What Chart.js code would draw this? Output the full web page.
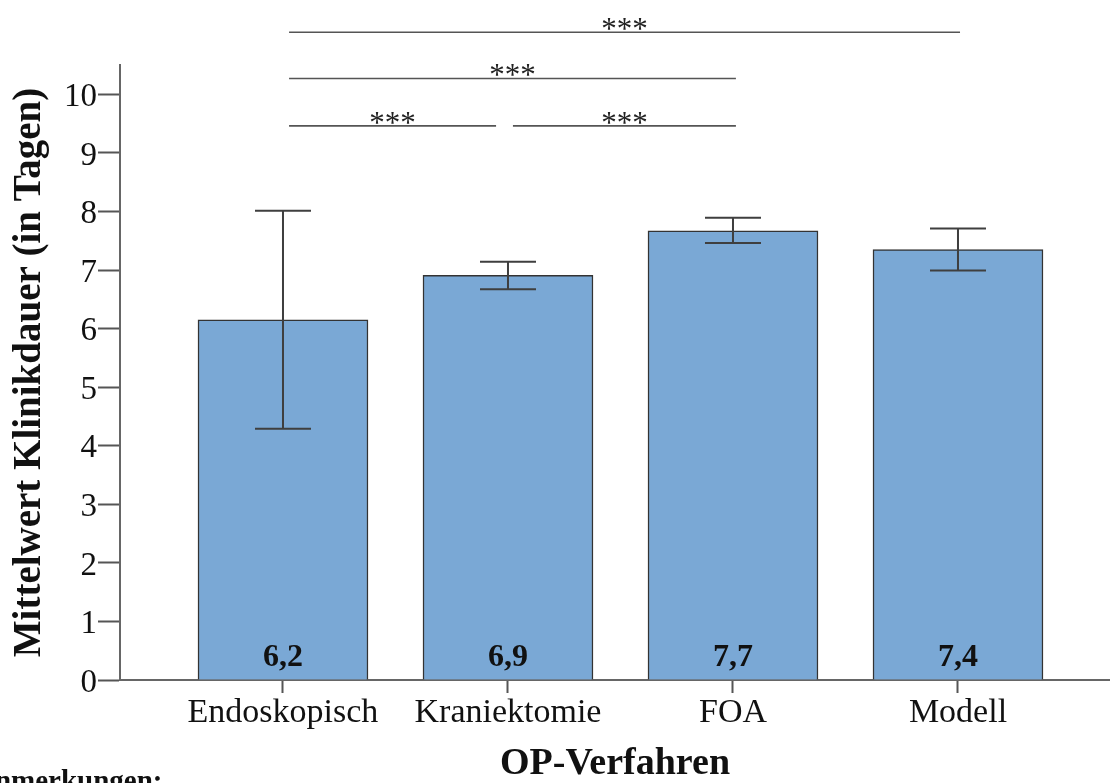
<!DOCTYPE html>
<html><head><meta charset="utf-8">
<script src="https://cdn.jsdelivr.net/npm/chart.js@4.4.0/dist/chart.umd.min.js"></script>
<style>html,body{margin:0;padding:0;background:#fff;overflow:hidden}#wrap{width:1110px;height:783px;position:relative}</style>
</head><body><div id="wrap"><canvas id="c" width="1110" height="783"></canvas></div>
<script>
// ---- data ----
const categories = ['Endoskopisch', 'Kraniektomie', 'FOA', 'Modell'];
const means = [6.15, 6.91, 7.67, 7.35];
const errLow = [4.29, 6.67, 7.46, 6.99];
const errHigh = [8.01, 7.14, 7.89, 7.71];
const valueLabels = ['6,2', '6,9', '7,7', '7,4'];
const yTicks = [0, 1, 2, 3, 4, 5, 6, 7, 8, 9, 10];
const sigFrom = [0.027, 0.027, 0.027, 1.022];
const sigTo = [3.009, 2.013, 0.947, 2.013];
const sigLevel = [11.06, 10.27, 9.46, 9.46];
const sigText = ['***', '***', '***', '***'];
const yTitle = 'Mittelwert Klinikdauer (in Tagen)';
const xTitle = 'OP-Verfahren';
const footnote = 'Anmerkungen:';

const SERIF = '"Liberation Serif", "Times New Roman", serif';

const overlay = {
  id: 'overlay',
  afterDatasetsDraw(chart) {
    const {ctx, scales: {x, y}} = chart;
    ctx.save();
    // error bars
    ctx.strokeStyle = '#3f3f3f';
    ctx.lineWidth = 2;
    const cap = 28;
    categories.forEach((c, i) => {
      const px = x.getPixelForValue(i);
      const yl = y.getPixelForValue(errLow[i]);
      const yh = y.getPixelForValue(errHigh[i]);
      ctx.beginPath();
      ctx.moveTo(px, yl); ctx.lineTo(px, yh);
      ctx.moveTo(px - cap, yl); ctx.lineTo(px + cap, yl);
      ctx.moveTo(px - cap, yh); ctx.lineTo(px + cap, yh);
      ctx.stroke();
    });
    // value labels
    ctx.fillStyle = '#111';
    ctx.font = 'bold 32px ' + SERIF;
    ctx.textAlign = 'center';
    ctx.textBaseline = 'alphabetic';
    const y0 = y.getPixelForValue(0);
    categories.forEach((c, i) => {
      ctx.fillText(valueLabels[i], x.getPixelForValue(i), y0 - 14);
    });
    // significance brackets
    ctx.strokeStyle = '#555';
    ctx.lineWidth = 1.6;
    ctx.font = '31px ' + SERIF;
    ctx.fillStyle = '#222';
    sigText.forEach((t, k) => {
      const x1 = x.getPixelForValue(sigFrom[k]);
      const x2 = x.getPixelForValue(sigTo[k]);
      const py = y.getPixelForValue(sigLevel[k]);
      ctx.beginPath();
      ctx.moveTo(x1, py); ctx.lineTo(x2, py);
      ctx.stroke();
      ctx.fillText(t, (x1 + x2) / 2, py + 7);
    });
    // footnote (cut off at the bottom edge)
    ctx.textAlign = 'left';
    ctx.fillStyle = '#111';
    ctx.font = 'bold 29px ' + SERIF;
    ctx.fillText(footnote, -26, 790);
    ctx.restore();
  }
};

new Chart(document.getElementById('c').getContext('2d'), {
  type: 'bar',
  data: {
    datasets: [{
      data: categories.map((c, i) => ({x: i, y: means[i]})),
      backgroundColor: '#7AA8D5',
      borderColor: '#333',
      borderWidth: 1.5,
      barThickness: 170
    }]
  },
  options: {
    responsive: false,
    animation: false,
    devicePixelRatio: 1,
    layout: {padding: {top: 65, left: 0, right: 0, bottom: 0}},
    plugins: {legend: {display: false}, tooltip: {enabled: false}},
    scales: {
      x: {
        type: 'linear',
        offset: false,
        min: -0.7244,
        max: 3.6756,
        afterBuildTicks: s => { s.ticks = categories.map((c, i) => ({value: i})); },
        afterFit: s => { s.height = 103; },
        grid: {offset: false, drawOnChartArea: false, drawTicks: true, tickLength: 13, color: '#555', tickWidth: 2},
        border: {display: true, color: '#666', width: 2},
        ticks: {
          autoSkip: false, maxRotation: 0, minRotation: 0, padding: 0, color: '#111',
          font: {family: SERIF, size: 34},
          callback: v => categories[v]
        },
        title: {
          display: true, text: xTitle, color: '#111',
          font: {family: SERIF, size: 38, weight: 'bold', lineHeight: 1},
          padding: {top: 0, bottom: 0}
        }
      },
      y: {
        min: 0,
        max: 10.5,
        afterBuildTicks: s => { s.ticks = yTicks.map(v => ({value: v})); },
        afterFit: s => { s.width = 120; },
        grid: {drawOnChartArea: false, drawTicks: true, tickLength: 22, color: '#555', tickWidth: 2},
        border: {display: true, color: '#666', width: 2},
        ticks: {padding: 1, labelOffset: 3, color: '#111', font: {family: SERIF, size: 33}},
        title: {
          display: true, text: yTitle, color: '#111',
          font: {family: SERIF, size: 39, weight: 'bold', lineHeight: 1},
          padding: {top: 10, bottom: 0}
        }
      }
    }
  },
  plugins: [overlay]
});
</script>
</body></html>
